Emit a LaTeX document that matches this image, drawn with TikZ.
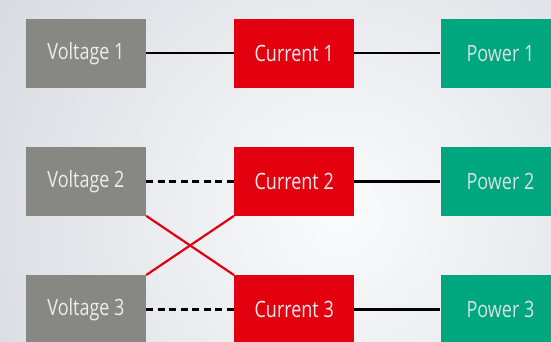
\documentclass[tikz,border=0pt]{standalone}
\usepackage{fontspec}
\setmainfont{Open Sans}[FakeStretch=0.8]
\definecolor{bgout}{HTML}{D6D9DF}
\definecolor{bgin}{HTML}{FAFBFC}
\definecolor{vgray}{HTML}{878784}
\definecolor{cred}{HTML}{E3000F}
\definecolor{pgreen}{HTML}{00A67E}
\definecolor{txt}{HTML}{ECECEC}
\begin{document}
\begin{tikzpicture}[x=1pt,y=-1pt,
  box/.style={minimum width=120pt,minimum height=68.5pt,inner sep=0pt,
    font=\fontsize{22.5}{26}\selectfont,text=txt},
  vbox/.style={box,fill=vgray},
  cbox/.style={box,fill=cred},
  pbox/.style={box,fill=pgreen,text=txt!90!pgreen},
  link/.style={line width=2.2pt,black},
  dlink/.style={line width=2.2pt,black,dash pattern=on 7pt off 4.5pt},
  xlink/.style={line width=2.2pt,cred}]
\useasboundingbox (0,0) rectangle (551,342);
\clip (0,0) rectangle (551,342);
\fill[bgout] (0,0) rectangle (551,342);
\shade[inner color=bgin,outer color=bgout] (340,215) circle (420);
\node[vbox] (v1) at (86,53.3) {Voltage 1};
\node[cbox] (c1) at (294.2,53.3) {Current 1};
\node[pbox] (p1) at (500.5,53.3) {Power 1};
\node[vbox] (v2) at (86,181.4) {Voltage 2};
\node[cbox] (c2) at (294.2,181.4) {Current 2};
\node[pbox] (p2) at (500.5,181.4) {Power 2};
\node[vbox] (v3) at (86,309.5) {Voltage 3};
\node[cbox] (c3) at (294.2,309.5) {Current 3};
\node[pbox] (p3) at (500.5,309.5) {Power 3};
\draw[link] (v1) -- (c1);
\draw[link] (c1) -- (p1);
\draw[dlink] (v2) -- (c2);
\draw[link] (c2) -- (p2);
\draw[dlink] (v3) -- (c3);
\draw[link] (c3) -- (p3);
\draw[xlink] (v2.south east) -- (c3.north west);
\draw[xlink] (v3.north east) -- (c2.south west);
\end{tikzpicture}
\end{document}
